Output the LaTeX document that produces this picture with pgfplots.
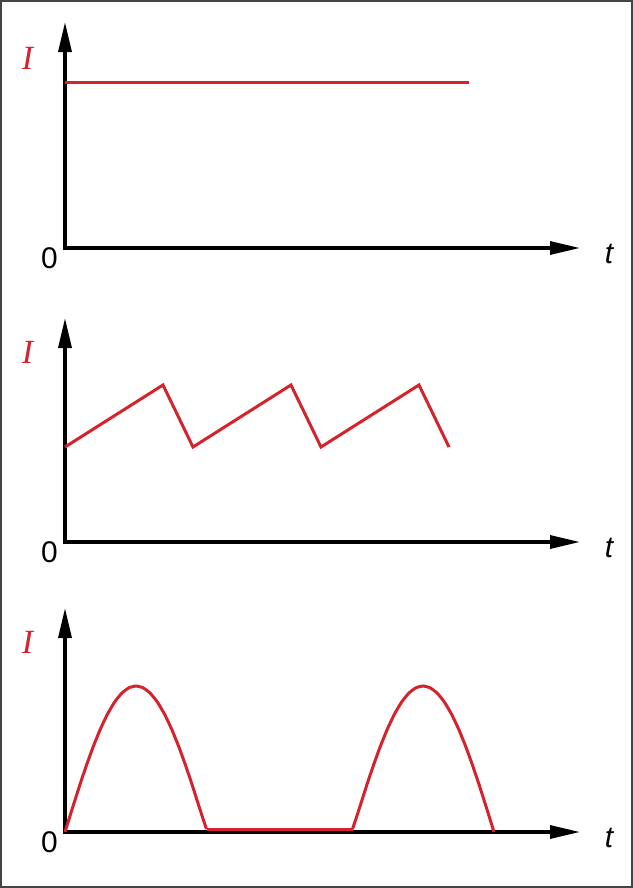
\documentclass[border=0pt]{standalone}
\usepackage{pgfplots}
\pgfplotsset{compat=1.18}
\usepackage{fontspec}
\setmainfont{Liberation Sans}
\newfontfamily\seriffont{Liberation Serif}
\usetikzlibrary{arrows.meta}
\definecolor{cred}{RGB}{213,35,45}
\definecolor{frame}{RGB}{68,68,68}
\pgfplotsset{
  panel/.style={
    x=1bp, y=1bp,
    xmin=0, xmax=515, ymin=0, ymax=225,
    axis lines=left,
    xtick=\empty, ytick=\empty,
    axis line style={line width=3.3bp, line cap=rect, -{Triangle[length=30bp,width=13bp]}},
    clip=false,
    anchor=south west,
  },
  redline/.style={cred, line width=3bp, no markers, line join=miter},
}
\begin{document}
\begin{tikzpicture}
\useasboundingbox (0,0) rectangle (633bp,-888bp);
\draw[frame, line width=2bp] (1bp,-1bp) rectangle (632bp,-887bp);

% Panel 1
\begin{axis}[panel, at={(65bp,-248bp)}, ymax=226]
\addplot[redline] coordinates {(0,166) (404,166)};
\end{axis}

% Panel 2
\begin{axis}[panel, at={(65bp,-542bp)}, ymax=224]
\addplot[redline] coordinates {(0,95) (98,157) (128,95) (226,157) (256,95) (354,157) (384,95)};
\end{axis}

% Panel 3
\begin{axis}[panel, at={(65bp,-832bp)}, ymax=224]
\addplot[redline, smooth, tension=0.3] coordinates {
(0,0) (7.1,22.84) (14.2,45.12) (21.3,66.28) (28.4,85.82) (35.5,103.24) (42.6,118.12) (49.7,130.09) (56.8,138.85) (63.9,144.20) (71,146)
(78.1,144.20) (85.2,138.85) (92.3,130.09) (99.4,118.12) (106.5,103.24) (113.6,85.82) (120.7,66.28) (127.8,45.12) (134.9,22.84) (141.5,3)};
\addplot[redline] coordinates {(141.5,3) (287.5,3)};
\addplot[redline, smooth, tension=0.3] coordinates {
(287.5,3) (294.1,22.84) (301.2,45.12) (308.3,66.28) (315.4,85.82) (322.5,103.24) (329.6,118.12) (336.7,130.09) (343.8,138.85) (350.9,144.20) (358,146)
(365.1,144.20) (372.2,138.85) (379.3,130.09) (386.4,118.12) (393.5,103.24) (400.6,85.82) (407.7,66.28) (414.8,45.12) (421.9,22.84) (429,0)};
\end{axis}

% Labels
\foreach \dy in {0,294,584} {
  \node[cred, font=\fontsize{34}{34}\selectfont\seriffont\itshape] at (27.5bp,{-(58.5+\dy)*1bp}) {I};
  \node[font=\fontsize{30}{30}\selectfont] at (49.5bp,{-(258+\dy)*1bp}) {0};
  \node[font=\fontsize{30}{30}\selectfont\itshape] at (609bp,{-(254+\dy)*1bp}) {t};
}
\end{tikzpicture}
\end{document}
